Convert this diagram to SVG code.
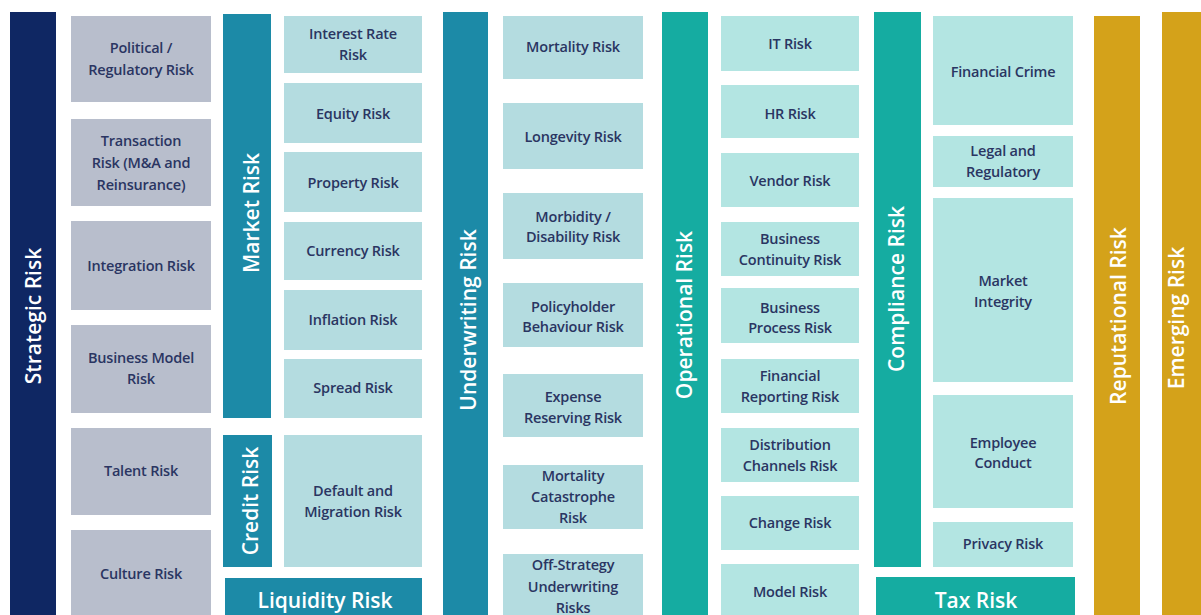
<svg xmlns="http://www.w3.org/2000/svg" width="1201" height="615" viewBox="0 0 1201 615">
  <style>
    .bar-navy { fill: #0f2763; }
    .bar-blue { fill: #1c8aa7; }
    .bar-teal { fill: #15aca1; }
    .bar-gold { fill: #d4a21a; }
    .box-gray { fill: #b8becc; }
    .box-blue { fill: #b4dce0; }
    .box-mint { fill: #b3e5e2; }
    .bar-label { font-family: "Open Sans", "Liberation Sans", sans-serif; font-weight: 600; font-size: 21px; fill: #ffffff; text-anchor: middle; }
    .band-label { font-family: "Open Sans", "Liberation Sans", sans-serif; font-weight: 600; font-size: 21px; fill: #ffffff; text-anchor: middle; }
    .item { font-family: "Open Sans", "Liberation Sans", sans-serif; font-weight: 600; font-size: 14.5px; fill: #2a3562; text-anchor: middle; letter-spacing: -0.2px; }
  </style>
  <rect width="1201" height="615" fill="#ffffff"/>

  <!-- Strategic risk column -->
  <g id="strategic-risk">
    <rect class="bar-navy" x="10" y="12" width="46" height="610"/>
    <text class="bar-label" transform="translate(41 316) rotate(-90)">Strategic Risk</text>
  </g>
  <g id="political-regulatory">
    <rect class="box-gray" x="71" y="16" width="140" height="86"/>
    <text class="item" x="141" y="53">Political /</text>
    <text class="item" x="141" y="75">Regulatory Risk</text>
  </g>
  <g id="transaction">
    <rect class="box-gray" x="71" y="119" width="140" height="87"/>
    <text class="item" x="141" y="146">Transaction</text>
    <text class="item" x="141" y="168">Risk (M&amp;A and</text>
    <text class="item" x="141" y="190">Reinsurance)</text>
  </g>
  <g id="integration">
    <rect class="box-gray" x="71" y="221" width="140" height="89"/>
    <text class="item" x="141" y="271">Integration Risk</text>
  </g>
  <g id="business-model">
    <rect class="box-gray" x="71" y="325" width="140" height="88"/>
    <text class="item" x="141" y="363">Business Model</text>
    <text class="item" x="141" y="384">Risk</text>
  </g>
  <g id="talent">
    <rect class="box-gray" x="71" y="428" width="140" height="87"/>
    <text class="item" x="141" y="476">Talent Risk</text>
  </g>
  <g id="culture">
    <rect class="box-gray" x="71" y="530" width="140" height="92"/>
    <text class="item" x="141" y="579">Culture Risk</text>
  </g>

  <!-- Market, credit and liquidity risk -->
  <g id="market-risk">
    <rect class="bar-blue" x="223" y="14" width="48" height="404"/>
    <text class="bar-label" transform="translate(259 213) rotate(-90)">Market Risk</text>
  </g>
  <g id="interest-rate">
    <rect class="box-blue" x="284" y="16" width="138" height="57"/>
    <text class="item" x="353" y="39">Interest Rate</text>
    <text class="item" x="353" y="60">Risk</text>
  </g>
  <g id="equity">
    <rect class="box-blue" x="284" y="83" width="138" height="60"/>
    <text class="item" x="353" y="119">Equity Risk</text>
  </g>
  <g id="property">
    <rect class="box-blue" x="284" y="152" width="138" height="60"/>
    <text class="item" x="353" y="188">Property Risk</text>
  </g>
  <g id="currency">
    <rect class="box-blue" x="284" y="222" width="138" height="58"/>
    <text class="item" x="353" y="256">Currency Risk</text>
  </g>
  <g id="inflation">
    <rect class="box-blue" x="284" y="290" width="138" height="60"/>
    <text class="item" x="353" y="325">Inflation Risk</text>
  </g>
  <g id="spread">
    <rect class="box-blue" x="284" y="359" width="138" height="59"/>
    <text class="item" x="353" y="393">Spread Risk</text>
  </g>
  <g id="credit-risk">
    <rect class="bar-blue" x="223" y="435" width="49" height="132"/>
    <text class="bar-label" transform="translate(258 501) rotate(-90)">Credit Risk</text>
  </g>
  <g id="default-migration">
    <rect class="box-blue" x="284" y="435" width="138" height="132"/>
    <text class="item" x="353" y="496">Default and</text>
    <text class="item" x="353" y="517">Migration Risk</text>
  </g>
  <g id="liquidity-risk">
    <rect class="bar-blue" x="225" y="578" width="197" height="44"/>
    <text class="band-label" x="325" y="608">Liquidity Risk</text>
  </g>

  <!-- Underwriting risk -->
  <g id="underwriting-risk">
    <rect class="bar-blue" x="443" y="12" width="45" height="610"/>
    <text class="bar-label" transform="translate(476 320) rotate(-90)">Underwriting Risk</text>
  </g>
  <g id="mortality">
    <rect class="box-blue" x="503" y="16" width="140" height="63"/>
    <text class="item" x="573" y="52">Mortality Risk</text>
  </g>
  <g id="longevity">
    <rect class="box-blue" x="503" y="103" width="140" height="66"/>
    <text class="item" x="573" y="142">Longevity Risk</text>
  </g>
  <g id="morbidity">
    <rect class="box-blue" x="503" y="193" width="140" height="66"/>
    <text class="item" x="573" y="222">Morbidity /</text>
    <text class="item" x="573" y="242">Disability Risk</text>
  </g>
  <g id="policyholder">
    <rect class="box-blue" x="503" y="283" width="140" height="64"/>
    <text class="item" x="573" y="312">Policyholder</text>
    <text class="item" x="573" y="332">Behaviour Risk</text>
  </g>
  <g id="expense-reserving">
    <rect class="box-blue" x="503" y="374" width="140" height="63"/>
    <text class="item" x="573" y="402">Expense</text>
    <text class="item" x="573" y="423">Reserving Risk</text>
  </g>
  <g id="mortality-catastrophe">
    <rect class="box-blue" x="503" y="465" width="140" height="64"/>
    <text class="item" x="573" y="481">Mortality</text>
    <text class="item" x="573" y="502">Catastrophe</text>
    <text class="item" x="573" y="523">Risk</text>
  </g>
  <g id="off-strategy">
    <rect class="box-blue" x="503" y="554" width="140" height="68"/>
    <text class="item" x="573" y="570">Off-Strategy</text>
    <text class="item" x="573" y="592">Underwriting</text>
    <text class="item" x="573" y="613">Risks</text>
  </g>

  <!-- Operational risk -->
  <g id="operational-risk">
    <rect class="bar-teal" x="662" y="12" width="46" height="610"/>
    <text class="bar-label" transform="translate(692 315) rotate(-90)">Operational Risk</text>
  </g>
  <g id="it">
    <rect class="box-mint" x="721" y="16" width="138" height="55"/>
    <text class="item" x="790" y="49">IT Risk</text>
  </g>
  <g id="hr">
    <rect class="box-mint" x="721" y="85" width="138" height="53"/>
    <text class="item" x="790" y="119">HR Risk</text>
  </g>
  <g id="vendor">
    <rect class="box-mint" x="721" y="153" width="138" height="54"/>
    <text class="item" x="790" y="186">Vendor Risk</text>
  </g>
  <g id="business-continuity">
    <rect class="box-mint" x="721" y="222" width="138" height="54"/>
    <text class="item" x="790" y="244">Business</text>
    <text class="item" x="790" y="265">Continuity Risk</text>
  </g>
  <g id="business-process">
    <rect class="box-mint" x="721" y="288" width="138" height="55"/>
    <text class="item" x="790" y="313">Business</text>
    <text class="item" x="790" y="333">Process Risk</text>
  </g>
  <g id="financial-reporting">
    <rect class="box-mint" x="721" y="359" width="138" height="54"/>
    <text class="item" x="790" y="381">Financial</text>
    <text class="item" x="790" y="402">Reporting Risk</text>
  </g>
  <g id="distribution-channels">
    <rect class="box-mint" x="721" y="428" width="138" height="54"/>
    <text class="item" x="790" y="450">Distribution</text>
    <text class="item" x="790" y="471">Channels Risk</text>
  </g>
  <g id="change">
    <rect class="box-mint" x="721" y="496" width="138" height="54"/>
    <text class="item" x="790" y="528">Change Risk</text>
  </g>
  <g id="model">
    <rect class="box-mint" x="721" y="564" width="138" height="58"/>
    <text class="item" x="790" y="597">Model Risk</text>
  </g>

  <!-- Compliance and tax risk -->
  <g id="compliance-risk">
    <rect class="bar-teal" x="874" y="12" width="47" height="555"/>
    <text class="bar-label" transform="translate(904 289) rotate(-90)">Compliance Risk</text>
  </g>
  <g id="financial-crime">
    <rect class="box-mint" x="933" y="16" width="140" height="109"/>
    <text class="item" x="1003" y="77">Financial Crime</text>
  </g>
  <g id="legal-regulatory">
    <rect class="box-mint" x="933" y="136" width="140" height="51"/>
    <text class="item" x="1003" y="156">Legal and</text>
    <text class="item" x="1003" y="177">Regulatory</text>
  </g>
  <g id="market-integrity">
    <rect class="box-mint" x="933" y="198" width="140" height="184"/>
    <text class="item" x="1003" y="286">Market</text>
    <text class="item" x="1003" y="307">Integrity</text>
  </g>
  <g id="employee-conduct">
    <rect class="box-mint" x="933" y="395" width="140" height="113"/>
    <text class="item" x="1003" y="448">Employee</text>
    <text class="item" x="1003" y="468">Conduct</text>
  </g>
  <g id="privacy">
    <rect class="box-mint" x="933" y="522" width="140" height="45"/>
    <text class="item" x="1003" y="549">Privacy Risk</text>
  </g>
  <g id="tax-risk">
    <rect class="bar-teal" x="876" y="577" width="199" height="45"/>
    <text class="band-label" x="976" y="608">Tax Risk</text>
  </g>

  <!-- Reputational and emerging risk -->
  <g id="reputational-risk">
    <rect class="bar-gold" x="1094" y="16" width="46" height="606"/>
    <text class="bar-label" transform="translate(1126 316) rotate(-90)">Reputational Risk</text>
  </g>
  <g id="emerging-risk">
    <rect class="bar-gold" x="1162" y="12" width="45" height="610"/>
    <text class="bar-label" transform="translate(1184 318) rotate(-90)">Emerging Risk</text>
  </g>
</svg>
